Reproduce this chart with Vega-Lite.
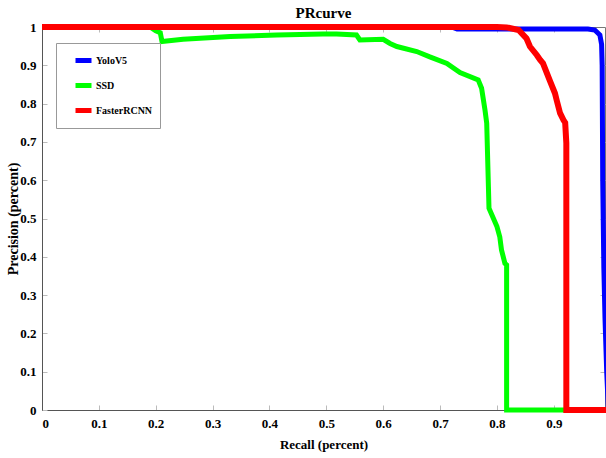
{
  "$schema": "https://vega.github.io/schema/vega-lite/v6.json",
  "width": 563,
  "height": 383,
  "autosize": "none",
  "padding": {"left": 42, "top": 27, "right": 1, "bottom": 48},
  "background": "white",
  "title": {"text": "PRcurve", "font": "Liberation Serif", "fontSize": 15, "fontWeight": "bold", "offset": 9, "dy": 15, "color": "black"},
  "data": {"values": [
    {"model": "YoloV5", "recall": 0, "precision": 1},
    {"model": "YoloV5", "recall": 0.72, "precision": 1},
    {"model": "YoloV5", "recall": 0.73, "precision": 0.995},
    {"model": "YoloV5", "recall": 0.96, "precision": 0.995},
    {"model": "YoloV5", "recall": 0.972, "precision": 0.992},
    {"model": "YoloV5", "recall": 0.981, "precision": 0.979},
    {"model": "YoloV5", "recall": 0.984, "precision": 0.955},
    {"model": "YoloV5", "recall": 0.985, "precision": 0.9},
    {"model": "YoloV5", "recall": 0.986, "precision": 0.6},
    {"model": "YoloV5", "recall": 0.988, "precision": 0.37},
    {"model": "YoloV5", "recall": 0.99, "precision": 0.24},
    {"model": "YoloV5", "recall": 0.993, "precision": 0.1},
    {"model": "YoloV5", "recall": 0.996, "precision": 0},
    {"model": "SSD", "recall": 0, "precision": 1},
    {"model": "SSD", "recall": 0.19, "precision": 1},
    {"model": "SSD", "recall": 0.2, "precision": 0.99},
    {"model": "SSD", "recall": 0.208, "precision": 0.985},
    {"model": "SSD", "recall": 0.211, "precision": 0.962},
    {"model": "SSD", "recall": 0.248, "precision": 0.968},
    {"model": "SSD", "recall": 0.331, "precision": 0.975},
    {"model": "SSD", "recall": 0.413, "precision": 0.979},
    {"model": "SSD", "recall": 0.494, "precision": 0.982},
    {"model": "SSD", "recall": 0.518, "precision": 0.982},
    {"model": "SSD", "recall": 0.553, "precision": 0.979},
    {"model": "SSD", "recall": 0.559, "precision": 0.966},
    {"model": "SSD", "recall": 0.6, "precision": 0.968},
    {"model": "SSD", "recall": 0.612, "precision": 0.957},
    {"model": "SSD", "recall": 0.624, "precision": 0.949},
    {"model": "SSD", "recall": 0.659, "precision": 0.936},
    {"model": "SSD", "recall": 0.682, "precision": 0.922},
    {"model": "SSD", "recall": 0.712, "precision": 0.905},
    {"model": "SSD", "recall": 0.735, "precision": 0.881},
    {"model": "SSD", "recall": 0.767, "precision": 0.862},
    {"model": "SSD", "recall": 0.773, "precision": 0.84},
    {"model": "SSD", "recall": 0.779, "precision": 0.783},
    {"model": "SSD", "recall": 0.782, "precision": 0.749},
    {"model": "SSD", "recall": 0.785, "precision": 0.583},
    {"model": "SSD", "recall": 0.786, "precision": 0.527},
    {"model": "SSD", "recall": 0.8, "precision": 0.479},
    {"model": "SSD", "recall": 0.805, "precision": 0.452},
    {"model": "SSD", "recall": 0.808, "precision": 0.418},
    {"model": "SSD", "recall": 0.814, "precision": 0.383},
    {"model": "SSD", "recall": 0.817, "precision": 0.379},
    {"model": "SSD", "recall": 0.817, "precision": 0},
    {"model": "SSD", "recall": 0.93, "precision": 0},
    {"model": "FasterRCNN", "recall": 0, "precision": 1},
    {"model": "FasterRCNN", "recall": 0.8, "precision": 1},
    {"model": "FasterRCNN", "recall": 0.817, "precision": 0.999},
    {"model": "FasterRCNN", "recall": 0.838, "precision": 0.992},
    {"model": "FasterRCNN", "recall": 0.852, "precision": 0.97},
    {"model": "FasterRCNN", "recall": 0.858, "precision": 0.949},
    {"model": "FasterRCNN", "recall": 0.87, "precision": 0.927},
    {"model": "FasterRCNN", "recall": 0.876, "precision": 0.914},
    {"model": "FasterRCNN", "recall": 0.881, "precision": 0.905},
    {"model": "FasterRCNN", "recall": 0.893, "precision": 0.86},
    {"model": "FasterRCNN", "recall": 0.902, "precision": 0.827},
    {"model": "FasterRCNN", "recall": 0.905, "precision": 0.809},
    {"model": "FasterRCNN", "recall": 0.911, "precision": 0.775},
    {"model": "FasterRCNN", "recall": 0.917, "precision": 0.757},
    {"model": "FasterRCNN", "recall": 0.92, "precision": 0.75},
    {"model": "FasterRCNN", "recall": 0.922, "precision": 0.697},
    {"model": "FasterRCNN", "recall": 0.922, "precision": 0},
    {"model": "FasterRCNN", "recall": 1.0, "precision": 0}
  ]},
  "resolve": {"axis": {"x": "independent", "y": "independent"}},
  "layer": [
    {
      "transform": [{"filter": "datum.model === 'YoloV5'"}],
      "mark": {"type": "line", "strokeWidth": 5, "clip": false},
      "encoding": {
        "x": {"field": "recall", "type": "quantitative", "scale": {"domain": [0, 0.99], "nice": false},
              "axis": {"orient": "bottom", "title": "Recall (percent)", "format": "~g", "labelPadding": 12, "titlePadding": 8,
                       "values": [0, 0.1, 0.2, 0.3, 0.4, 0.5, 0.6, 0.7, 0.8, 0.9]}},
        "y": {"field": "precision", "type": "quantitative", "scale": {"domain": [0, 1], "nice": false},
              "axis": {"orient": "left", "title": "Precision (percent)", "format": "~g", "labelPadding": 11, "titlePadding": -1, "titleFontSize": 14,
                       "values": [0, 0.1, 0.2, 0.3, 0.4, 0.5, 0.6, 0.7, 0.8, 0.9, 1]}},
        "color": {"field": "model", "type": "nominal",
                  "scale": {"domain": ["YoloV5", "SSD", "FasterRCNN"], "range": ["#0000ff", "#00ff00", "#ff0000"]},
                  "legend": {"title": null, "orient": "none", "legendX": 14, "legendY": 16, "symbolType": "stroke",
                             "symbolStrokeWidth": 5, "symbolSize": 256, "padding": 7, "rowPadding": 4,
                             "symbolOffset": 10, "strokeColor": "#999", "fillColor": "white",
                             "labelFont": "Liberation Serif", "labelFontWeight": "bold", "labelFontSize": 10,
                             "labelColor": "black", "labelOffset": 2}},
        "order": {"value": null}
      }
    },
    {
      "transform": [{"filter": "datum.model === 'SSD'"}],
      "mark": {"type": "line", "strokeWidth": 5, "clip": false},
      "encoding": {
        "x": {"field": "recall", "type": "quantitative", "axis": null},
        "y": {"field": "precision", "type": "quantitative", "axis": null},
        "color": {"field": "model", "type": "nominal"},
        "order": {"value": null}
      }
    },
    {
      "transform": [{"filter": "datum.model === 'FasterRCNN'"}],
      "mark": {"type": "line", "strokeWidth": 6, "clip": false},
      "encoding": {
        "x": {"field": "recall", "type": "quantitative", "axis": {"orient": "top", "labels": false, "domain": false, "title": null, "values": [0.1, 0.2, 0.3, 0.4, 0.5, 0.6, 0.7, 0.8, 0.9]}},
        "y": {"field": "precision", "type": "quantitative", "axis": {"orient": "right", "labels": false, "domain": false, "title": null, "values": [0.1, 0.2, 0.3, 0.4, 0.5, 0.6, 0.7, 0.8, 0.9]}},
        "color": {"field": "model", "type": "nominal"},
        "order": {"value": null}
      }
    }
  ],
  "config": {
    "view": {"stroke": "#777", "strokeWidth": 1},
    "axis": {
      "grid": false,
      "domainColor": "#555",
      "tickColor": "#bbb",
      "tickSize": -5,
      "labelFont": "Liberation Serif",
      "labelFontWeight": "bold",
      "labelFontSize": 13,
      "labelColor": "black",
      "titleFont": "Liberation Serif",
      "titleFontWeight": "bold",
      "titleFontSize": 13,
      "titleColor": "black"
    }
  }
}
